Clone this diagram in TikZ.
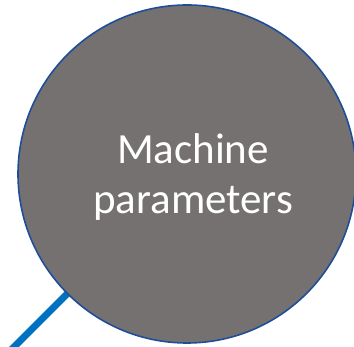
\documentclass[tikz,border=0pt]{standalone}
\usepackage{fontspec}
\setmainfont{Carlito}
\usetikzlibrary{backgrounds}
\definecolor{discgrey}{HTML}{767171}
\definecolor{rimblue}{HTML}{1F4E99}
\definecolor{linkblue}{HTML}{0070C0}
\tikzset{
  bubble/.style={circle, fill=discgrey, draw=rimblue, line width=1.6pt,
    minimum size=338pt, inner sep=0pt},
  caption/.style={text=white, align=center, inner sep=0pt,
    font=\fontsize{43pt}{50pt}\selectfont},
  link/.style={draw=linkblue, line width=7pt}
}
\begin{document}
\begin{tikzpicture}[x=1pt,y=-1pt]
  \useasboundingbox (0,0) rectangle (354,347);
  \clip (0,0) rectangle (354,347);
  % the disc and its two-line caption
  \node[bubble] (mp) at (187,174) {};
  \node[caption] (label) at (193,177) {Machine\\parameters};
  % radial connector leaving towards the lower left
  \coordinate (tail) at (-13,374);
  \begin{scope}[on background layer]
    \draw[link] (mp.center) -- (tail);
  \end{scope}
\end{tikzpicture}
\end{document}
